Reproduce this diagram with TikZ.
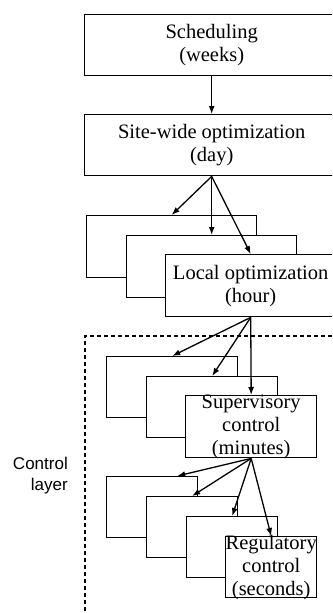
\documentclass[tikz,border=0pt]{standalone}
\usepackage{fontspec}
\setmainfont{Liberation Serif}
\setsansfont{Liberation Sans}
\usetikzlibrary{arrows.meta, positioning}

\begin{document}
\begin{tikzpicture}[x=1pt, y=-1pt,
        layer/.style={rectangle, draw=black, fill=white, line width=1.4pt, inner sep=0pt, anchor=north west, align=center, font=\fontsize{20.5}{23}\selectfont},
        widebox/.style={layer, minimum width=254pt, minimum height=61pt},
        lbox/.style={layer, minimum width=170pt, minimum height=62pt},
        sbox/.style={layer, minimum width=131pt, minimum height=61pt},
        rbox/.style={layer, minimum width=91pt, minimum height=61pt},
        boxtext/.style={inner sep=0pt, align=center, font=\fontsize{20.5}{23}\selectfont},
        arr/.style={-{Latex[length=8pt, width=6pt]}, line width=1.3pt}
    ]
        \useasboundingbox (0,0) rectangle (332,613);
        \clip (0,0) rectangle (332,613);

        % Planning levels
        \node[widebox] (sched) at (84,14) {Scheduling\\(weeks)};
        \node[widebox] (site) at (84,114) {Site-wide optimization\\(day)};

        % Local optimization stack
        \node[lbox] (loc1) at (86,215) {};
        \node[lbox] (loc2) at (126,235) {};
        \node[lbox] (loc3) at (165,254) {Local optimization\\(hour)};

        % Control layer frame
        \draw[line width=1.4pt, dash pattern=on 4pt off 3pt] (85,625) -- (85,336) -- (345,336);
        \node[font=\sffamily\fontsize{17}{21}\selectfont, align=right, anchor=east, inner sep=0pt] (ctrl) at (68,476) {Control\\layer};

        % Supervisory control stack
        \node[sbox] (sup1) at (106,356) {};
        \node[sbox] (sup2) at (146,376) {};
        \node[sbox, minimum height=62pt] (sup3) at (185,395) {};
        \node[boxtext] (suptext) at (sup3.center) {Supervisory\\control\\(minutes)};

        % Regulatory control stack
        \node[rbox] (reg1) at (106,476) {};
        \node[rbox] (reg2) at (146,496) {};
        \node[rbox] (reg3) at (186,516) {};
        \node[rbox] (reg4) at (225,536) {};
        \node[boxtext] (regtext) at (reg4.center) {Regulatory\\control\\(seconds)};

        % Links
        \draw[arr] (sched.south) -- (site.north);
        \draw[arr] (site.south) -- (loc1.north);
        \draw[arr] (site.south) -- (loc2.north);
        \draw[arr] (site.south) -- (loc3.north);
        \draw[arr] (loc3.south) -- (sup1.north);
        \draw[arr] (loc3.south) -- (sup2.north);
        \draw[arr] (loc3.south) -- (sup3.north);
        \draw[arr] (sup3.south) -- ([xshift=25pt]reg1.north);
        \draw[arr] (sup3.south) -- (reg2.north);
        \draw[arr] (sup3.south) -- (reg3.north);
        \draw[arr] (sup3.south) -- (reg4.north);
    \end{tikzpicture}
\end{document}
